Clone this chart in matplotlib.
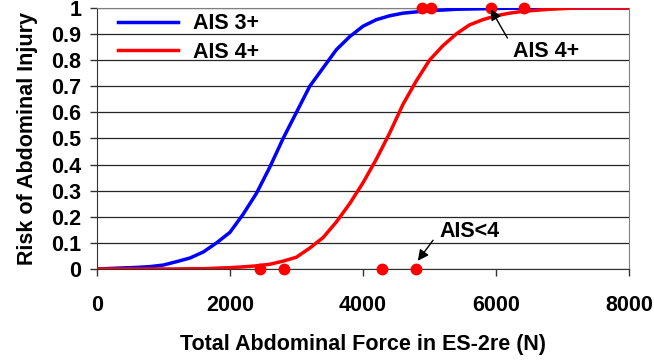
import matplotlib
matplotlib.use("Agg")
import matplotlib.pyplot as plt

plt.rcParams['font.family'] = ['Liberation Sans', 'DejaVu Sans']
plt.rcParams['font.weight'] = 'bold'

# risk curves (force in N, probability)
force = [0, 200, 400, 600, 800, 1000, 1200, 1400, 1600, 1800, 2000, 2200, 2400,
         2600, 2800, 3000, 3200, 3400, 3600, 3800, 4000, 4200, 4400, 4600, 4800,
         5000, 5200, 5400, 5600, 5800, 6000, 6200, 6400, 6800, 7200, 8000]
risk_ais3 = [0, 0.002, 0.004, 0.006, 0.009, 0.015, 0.028, 0.042, 0.065, 0.10, 0.14,
             0.21, 0.29, 0.39, 0.50, 0.60, 0.70, 0.77, 0.84, 0.89, 0.93, 0.955,
             0.97, 0.98, 0.985, 0.99, 0.992, 0.995, 0.996, 0.997, 0.998, 0.999,
             0.999, 1.0, 1.0, 1.0]
risk_ais4 = [0, 0, 0, 0, 0, 0, 0, 0.001, 0.001, 0.003, 0.005, 0.008, 0.012,
             0.018, 0.03, 0.045, 0.08, 0.12, 0.18, 0.25, 0.33, 0.42, 0.52, 0.63,
             0.72, 0.80, 0.855, 0.90, 0.935, 0.955, 0.97, 0.98, 0.987, 0.995,
             1.0, 1.0]

# test outcomes
injured_force = [4890, 5020, 5920, 6420]
injured_val = [1, 1, 1, 1]
uninjured_force = [2450, 2810, 4290, 4800]
uninjured_val = [0, 0, 0, 0]

FS = 15.5

fig = plt.figure(figsize=(6.54, 3.62), dpi=100)
ax = fig.add_axes([0.148, 0.257, 0.814, 0.721])

ax.plot(force, risk_ais3, color='#0000ff', lw=2.5, label='AIS 3+', zorder=3)
ax.plot(force, risk_ais4, color='#ff0000', lw=2.5, label='AIS 4+', zorder=3)
ax.plot(injured_force, injured_val, 'o', color='#ff0000', ms=7.5, zorder=4,
        clip_on=False)
ax.plot(uninjured_force, uninjured_val, 'o', color='#ff0000', ms=7.5, zorder=4,
        clip_on=False)

ax.set_xlim(0, 8000)
ax.set_ylim(0, 1)
ax.set_xticks([0, 2000, 4000, 6000, 8000])
ax.set_yticks([i / 10 for i in range(11)])
ax.set_yticklabels(['0', '0.1', '0.2', '0.3', '0.4', '0.5', '0.6', '0.7',
                    '0.8', '0.9', '1'])
ax.tick_params(labelsize=FS, length=5, width=1, color='0.2')
ax.tick_params(axis='x', pad=14)
ax.tick_params(axis='y', pad=6)
ax.grid(axis='y', color='0.15', lw=0.9)
ax.set_axisbelow(True)
for side in ['top', 'right']:
    ax.spines[side].set_color('0.5')
ax.spines['left'].set_color('0.2')
ax.spines['bottom'].set_color('0.2')

ax.set_xlabel('Total Abdominal Force in ES-2re (N)', fontsize=FS,
              fontweight='bold', labelpad=13)
ax.set_ylabel('Risk of Abdominal Injury', fontsize=FS, fontweight='bold',
              labelpad=10)

# callouts: arrows drawn separately from their labels
arrow = dict(arrowstyle='-|>', color='black', lw=1, mutation_scale=16,
             shrinkA=0, shrinkB=1)
ax.annotate('', xy=(5910, 1.0), xytext=(6170, 0.885), arrowprops=arrow,
            zorder=5)
ax.text(6250, 0.835, 'AIS 4+', fontsize=FS, fontweight='bold',
        ha='left', va='center')
ax.annotate('', xy=(4812, 0.027), xytext=(5053, 0.11), arrowprops=arrow,
            zorder=5)
ax.text(5150, 0.142, 'AIS<4', fontsize=FS, fontweight='bold',
        ha='left', va='center')

ax.legend(loc='upper left', frameon=False, fontsize=FS, handlelength=2.8,
          handletextpad=0.7, borderaxespad=0.2, labelspacing=0.35,
          bbox_to_anchor=(0.015, 1.03))

fig.savefig('out.png', dpi=100)
